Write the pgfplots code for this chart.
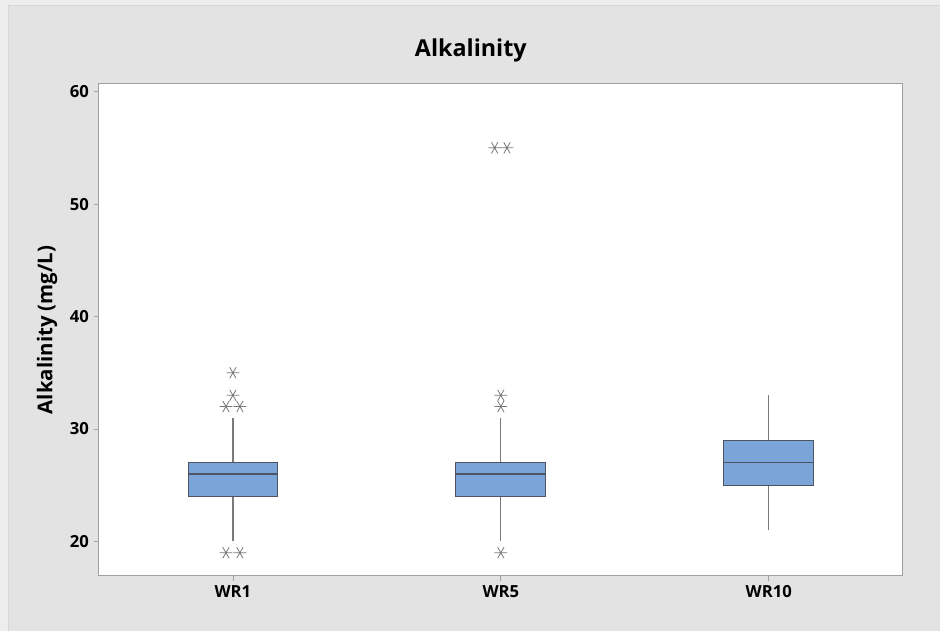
\documentclass[border=0pt]{standalone}
\usepackage{pgfplots}
\pgfplotsset{compat=1.18}
\usepackage{fontspec}
\setmainfont{Open Sans}
\definecolor{bg}{HTML}{E3E3E3}
\definecolor{bgedge}{HTML}{EDEDED}
\definecolor{boxblue}{HTML}{7BA4D9}
\definecolor{boxedge}{HTML}{4F5560}
\definecolor{whisk}{HTML}{7A7A7A}
\definecolor{axisgray}{HTML}{A0A0A0}
\begin{document}
\begin{tikzpicture}
\begin{scope}[x=0.75pt,y=0.75pt]
\fill[bgedge] (0,0) rectangle (940,631);
\fill[bg] (8,0) rectangle (940,626);
\draw[bgedge!80!gray, line width=0.5pt] (8,0) -- (8,626) -- (940,626);
\node[anchor=base, font=\fontsize{17.5}{20}\selectfont\bfseries] at (471,574) {Alkalinity};
\end{scope}
\begin{axis}[
  at={(74.25pt,41.25pt)}, anchor=south west,
  scale only axis, width=603pt, height=369pt,
  xmin=0.5, xmax=3.5, ymin=16.95, ymax=60.68,
  xtick={1,2,3}, xticklabels={WR1,WR5,WR10},
  ytick={20,30,40,50,60},
  xtick pos=bottom, ytick pos=left,
  tick align=outside, major tick length=4pt,
  tick style={axisgray, line width=0.6pt},
  axis line style={axisgray, line width=0.8pt},
  axis background/.style={fill=white},
  ticklabel style={font=\fontsize{12.5}{14}\selectfont\bfseries},
  /pgf/number format/assume math mode=true,
  ylabel={Alkalinity (mg/L)},
  ylabel style={font=\fontsize{15.3}{18}\selectfont\bfseries, at={(axis description cs:-0.0647,0.5)}, anchor=center},
  whisker/.style={draw=whisk, line width=0.9pt, no marks},
  box/.style={fill=boxblue, draw=boxedge, line width=0.8pt, no marks},
  med/.style={draw=boxedge, line width=0.8pt, no marks},
  outl/.style={only marks, mark=asterisk, mark size=4.8pt, mark options={rotate=90, draw=whisk, line width=0.6pt}},
]
% whiskers
\addplot[whisker] coordinates {(1,20) (1,24)};
\addplot[whisker] coordinates {(1,27) (1,31)};
\addplot[whisker] coordinates {(2,20) (2,24)};
\addplot[whisker] coordinates {(2,27) (2,31)};
\addplot[whisker] coordinates {(3,21) (3,25)};
\addplot[whisker] coordinates {(3,29) (3,33)};
% boxes (Q1 to Q3)
\addplot[box] coordinates {(0.8325,24) (1.1675,24) (1.1675,27) (0.8325,27)} -- cycle;
\addplot[box] coordinates {(1.8325,24) (2.1675,24) (2.1675,27) (1.8325,27)} -- cycle;
\addplot[box] coordinates {(2.8325,25) (3.1675,25) (3.1675,29) (2.8325,29)} -- cycle;
% medians
\addplot[med] coordinates {(0.8325,26) (1.1675,26)};
\addplot[med] coordinates {(1.8325,26) (2.1675,26)};
\addplot[med] coordinates {(2.8325,27) (3.1675,27)};
% outliers
\addplot[outl] coordinates {
  (0.974,19) (1.026,19) (0.974,32) (1.026,32) (1,33) (1,35)
  (2,19) (2,32) (2,33) (1.977,55) (2.023,55)
};
\end{axis}
\end{tikzpicture}
\end{document}
